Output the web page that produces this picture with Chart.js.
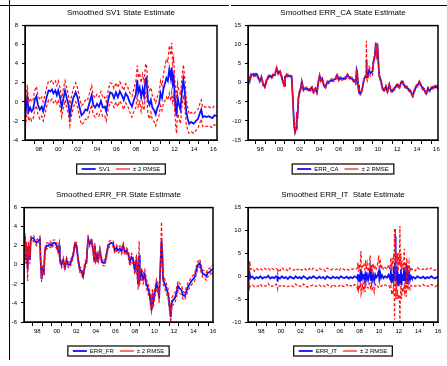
<!DOCTYPE html>
<html>
<head>
<meta charset="utf-8">
<title>Smoothed State Estimates</title>
<script src="https://cdn.jsdelivr.net/npm/chart.js@4/dist/chart.umd.min.js"></script>
<style>
  body { margin: 0; background: #fff; }
  #page { position: relative; width: 447px; height: 366px; overflow: hidden; }
  .panel { position: absolute; }
  .rule { position: absolute; background: #000; z-index: 2; }
</style>
</head>
<body>
<div id="page">
  <div class="rule" style="left:0;top:5px;width:229px;height:1px"></div>
  <div class="rule" style="left:231px;top:5px;width:216px;height:1px"></div>
  <div class="rule" style="left:9px;top:0;width:1px;height:360px"></div>
  <div class="panel" style="left:0;top:3px;width:228px;height:180px"><canvas id="c1"></canvas></div>
  <div class="panel" style="left:225px;top:3px;width:222px;height:180px"><canvas id="c2"></canvas></div>
  <div class="panel" style="left:0;top:183px;width:228px;height:183px"><canvas id="c3"></canvas></div>
  <div class="panel" style="left:225px;top:183px;width:222px;height:183px"><canvas id="c4"></canvas></div>
</div>
<script>
// x labels (2-digit years), placed mid-year
const yearLabels = ['98', '00', '02', '04', '06', '08', '10', '12', '14', '16'];

// SV1
const sv1Ticks = [-4, -2, 0, 2, 4, 6, 8];
const sv1Dates = [
  1997.07, 1997.2, 1997.3, 1997.45, 1997.6, 1997.75, 1997.9, 1998.1, 1998.25, 1998.4,
  1998.6, 1998.8, 1998.95, 1999.15, 1999.3, 1999.5, 1999.7, 1999.85, 2000.0, 2000.2,
  2000.35, 2000.5, 2000.7, 2000.85, 2001.0, 2001.2, 2001.4, 2001.55, 2001.7, 2001.85,
  2002.05, 2002.3, 2002.5, 2002.7, 2002.9, 2003.1, 2003.3, 2003.5, 2003.75, 2003.95,
  2004.1, 2004.3, 2004.5, 2004.7, 2004.9, 2005.1, 2005.3, 2005.45, 2005.65, 2005.85,
  2006.05, 2006.25, 2006.45, 2006.65, 2006.85, 2007.05, 2007.25, 2007.45, 2007.65, 2007.85,
  2008.1, 2008.3, 2008.5, 2008.65, 2008.75, 2008.9, 2009.05, 2009.2, 2009.35, 2009.5,
  2009.6, 2009.75, 2009.9, 2010.05, 2010.2, 2010.4, 2010.55, 2010.7, 2010.9, 2011.05,
  2011.2, 2011.35, 2011.5, 2011.65, 2011.8, 2011.95, 2012.1, 2012.2, 2012.3, 2012.4,
  2012.5, 2012.6, 2012.7, 2012.8, 2012.95, 2013.1, 2013.25, 2013.4, 2013.55, 2013.7,
  2013.85, 2014.0, 2014.2, 2014.45, 2014.7, 2014.9, 2015.1, 2015.25, 2015.4, 2015.6,
  2015.8, 2016.0, 2016.2, 2016.4, 2016.6, 2016.87
];
const sv1Values = [
  -1.9, -0.5, 0.5, -1.0, -0.6, -1.0, -0.8, 0.3, 0.6, -0.3,
  -0.8, -0.5, -1.0, -0.2, 0.5, 1.2, 1.1, 1.3, 0.9, 1.2,
  0.7, 1.2, 0.4, -0.6, 0.2, 1.2, 0.3, -0.3, -1.5, -0.5,
  0.4, 1.0, 0.4, -0.6, -1.4, -1.2, -0.8, -0.9, 0.0, 0.7,
  -0.3, -0.6, -0.2, -0.5, 0.1, -0.6, -0.5, -1.0, 0.2, 1.0,
  0.9, 0.4, 1.0, 0.5, 1.1, 0.7, 0.2, 0.9, 0.6, 0.0,
  -0.5, 0.2, 0.8, 2.3, 1.0, 1.5, 0.5, 1.4, 0.6, 2.4,
  2.5, 0.2, -0.3, 0.2, -0.6, -0.9, -1.3, -0.7, -0.2, 0.9,
  0.4, 1.4, 1.9, 2.5, 2.2, 3.4, 2.5, 3.6, 2.0, 2.6,
  0.8, -0.6, -1.5, 0.5, -0.3, -0.8, 1.0, 2.3, 1.0, -1.0,
  -1.8, -2.3, -2.1, -2.3, -2.0, -1.8, -1.2, -0.8, -1.6, -1.5,
  -1.6, -1.5, -1.6, -1.7, -1.4, -1.5
];
const sv1Band = [
  1.3, 1.3, 1.3, 1.0, 1.0, 1.0, 1.0, 1.0, 1.0, 1.0,
  1.0, 1.0, 1.0, 1.0, 1.0, 1.0, 1.0, 1.0, 1.0, 1.0,
  1.0, 1.0, 1.0, 1.0, 1.0, 1.0, 1.0, 1.0, 1.0, 1.0,
  1.0, 1.0, 1.0, 1.0, 1.0, 1.0, 1.0, 1.0, 1.0, 1.0,
  1.0, 1.0, 1.0, 1.0, 1.0, 1.0, 1.0, 1.0, 1.0, 1.0,
  1.0, 1.0, 1.0, 1.0, 1.0, 1.0, 1.0, 1.0, 1.0, 1.0,
  1.1, 1.2, 1.4, 1.5, 1.5, 1.5, 1.5, 1.5, 1.5, 1.5,
  1.5, 1.5, 1.5, 1.3, 1.3, 1.2, 1.2, 1.2, 1.2, 1.3,
  1.3, 1.5, 1.8, 2.0, 2.0, 2.5, 2.4, 2.6, 2.0, 2.0,
  1.8, 1.8, 1.8, 1.5, 1.5, 1.5, 1.5, 1.6, 1.5, 1.3,
  1.2, 1.0, 1.0, 1.0, 1.0, 1.0, 1.0, 1.0, 1.0, 1.0,
  1.0, 1.0, 1.0, 1.0, 1.0, 1.0
];

// ERR_CA
const caTicks = [-15, -10, -5, 0, 5, 10, 15];
const caDates = [
  1997.23, 1997.4, 1997.57, 1997.92, 1998.09, 1998.26, 1998.43, 1998.6, 1998.78, 1998.95,
  1999.12, 1999.29, 1999.46, 1999.64, 1999.81, 1999.98, 2000.15, 2000.32, 2000.5, 2000.67,
  2000.84, 2000.94, 2001.01, 2001.18, 2001.36, 2001.53, 2001.7, 2001.8, 2001.94, 2002.04,
  2002.15, 2002.22, 2002.28, 2002.39, 2002.49, 2002.63, 2002.73, 2002.9, 2003.25, 2003.59,
  2003.76, 2003.94, 2004.11, 2004.28, 2004.45, 2004.55, 2004.69, 2004.83, 2004.97, 2005.14,
  2005.31, 2005.66, 2006.0, 2006.17, 2006.34, 2006.52, 2006.69, 2007.03, 2007.2, 2007.38,
  2007.55, 2007.72, 2007.89, 2008.06, 2008.24, 2008.34, 2008.41, 2008.48, 2008.58, 2008.75,
  2008.92, 2009.09, 2009.23, 2009.3, 2009.34, 2009.38, 2009.44, 2009.61, 2009.78, 2009.96,
  2010.06, 2010.2, 2010.3, 2010.4, 2010.47, 2010.54, 2010.64, 2010.82, 2010.99, 2011.16,
  2011.33, 2011.5, 2011.68, 2011.85, 2012.02, 2012.19, 2012.36, 2012.54, 2012.71, 2012.88,
  2013.05, 2013.15, 2013.4, 2013.57, 2013.74, 2013.91, 2014.08, 2014.25, 2014.43, 2014.6,
  2014.77, 2014.94, 2015.12, 2015.29, 2015.46, 2015.63, 2015.8, 2015.98, 2016.15, 2016.32,
  2016.49, 2016.66
];
const caValues = [
  2.2, 0.5, 2.2, 2.0, 2.3, 1.5, 0.5, 1.5, -0.5, -1.0,
  0.5, 1.5, 1.8, 1.5, 2.0, 2.0, 3.8, 2.5, 3.0, 1.5,
  0.0, -0.8, 1.5, 2.0, 1.8, 1.8, 1.5, -3.5, -11.0, -12.8,
  -12.0, -8.0, -9.5, -4.0, -2.5, -1.5, 0.2, -1.8, -1.5, -2.0,
  -1.2, -2.5, -1.5, -2.5, 0.5, 1.8, 0.5, 1.0, -0.5, -1.2,
  0.0, 0.5, 0.8, 1.0, 2.0, 0.8, 1.2, 1.0, 1.2, 2.0,
  1.5, 1.2, 1.0, 0.6, 0.0, 3.3, 2.5, -0.5, -2.5, -2.8,
  -1.5, 1.0, 1.5, 1.5, 6.0, 1.5, 1.5, 3.3, 2.5, 3.0,
  5.5, 7.0, 10.3, 8.0, 10.0, 6.5, 2.0, 0.5, -1.5, -2.0,
  -1.0, -2.3, -0.5, -2.0, -2.2, -1.5, -1.0, -0.5, -1.2, 0.0,
  0.3, -0.5, -1.2, -1.5, -2.0, -2.5, -3.5, -2.0, -1.0, -0.5,
  0.2, -0.8, -1.5, -2.0, -2.8, -1.5, -2.0, -1.5, -1.2, -1.0,
  -1.2, -0.8
];
const caBand = [
  0.4, 0.4, 0.4, 0.4, 0.4, 0.4, 0.4, 0.4, 0.4, 0.4,
  0.4, 0.4, 0.4, 0.4, 0.4, 0.4, 0.4, 0.4, 0.4, 0.4,
  0.4, 0.4, 0.4, 0.4, 0.4, 0.4, 0.4, 0.5, 0.6, 0.6,
  0.6, 0.5, 0.5, 0.4, 0.4, 0.4, 0.4, 0.4, 0.4, 0.4,
  0.4, 0.4, 0.4, 0.4, 0.4, 0.4, 0.4, 0.4, 0.4, 0.4,
  0.4, 0.4, 0.4, 0.4, 0.4, 0.4, 0.4, 0.4, 0.4, 0.4,
  0.4, 0.4, 0.4, 0.4, 0.4, 0.4, 0.4, 0.4, 0.4, 0.4,
  0.4, 0.4, 0.5, 0.5, 5.0, 0.5, 1.0, 1.0, 1.0, 1.0,
  0.6, 0.6, 0.4, 0.5, 0.6, 0.5, 0.5, 0.4, 0.4, 0.4,
  0.4, 0.4, 0.4, 0.4, 0.4, 0.4, 0.4, 0.4, 0.4, 0.4,
  0.4, 0.4, 0.4, 0.4, 0.4, 0.4, 0.4, 0.4, 0.4, 0.4,
  0.4, 0.4, 0.4, 0.4, 0.4, 0.4, 0.4, 0.4, 0.4, 0.4,
  0.4, 0.4
];

// ERR_FR
const frTicks = [-6, -4, -2, 0, 2, 4, 6];
const frDates = [
  1997.14, 1997.24, 1997.34, 1997.41, 1997.51, 1997.61, 1997.75, 1997.82, 1997.92, 1998.09,
  1998.26, 1998.43, 1998.6, 1998.77, 1998.84, 1998.94, 1999.05, 1999.18, 1999.28, 1999.45,
  1999.63, 1999.8, 1999.97, 2000.14, 2000.31, 2000.48, 2000.65, 2000.75, 2000.82, 2000.99,
  2001.16, 2001.33, 2001.5, 2001.67, 2001.84, 2002.01, 2002.18, 2002.35, 2002.52, 2002.69,
  2002.86, 2003.03, 2003.2, 2003.38, 2003.55, 2003.61, 2003.72, 2003.89, 2004.06, 2004.23,
  2004.33, 2004.4, 2004.5, 2004.64, 2004.74, 2004.91, 2005.08, 2005.25, 2005.42, 2005.59,
  2005.76, 2005.93, 2006.1, 2006.27, 2006.44, 2006.61, 2006.78, 2006.96, 2007.13, 2007.3,
  2007.47, 2007.64, 2007.81, 2007.98, 2008.15, 2008.32, 2008.49, 2008.66, 2008.83, 2008.93,
  2009.0, 2009.17, 2009.34, 2009.51, 2009.68, 2009.85, 2010.02, 2010.19, 2010.3, 2010.36,
  2010.53, 2010.71, 2010.88, 2010.98, 2011.12, 2011.22, 2011.32, 2011.39, 2011.56, 2011.73,
  2011.9, 2012.07, 2012.17, 2012.27, 2012.41, 2012.58, 2012.75, 2012.92, 2013.09, 2013.26,
  2013.43, 2013.6, 2013.77, 2013.94, 2014.12, 2014.29, 2014.46, 2014.63, 2014.8, 2014.97,
  2015.14, 2015.31, 2015.48, 2015.65, 2015.82, 2015.99, 2016.16, 2016.33, 2016.5
];
const frValues = [
  1.0, 3.0, 0.5, 2.0, -0.5, 2.0, 0.5, 2.5, 2.8, 2.8,
  2.5, 2.3, 2.5, 2.7, 0.5, -1.5, -0.5, -0.8, 1.5, 2.0,
  2.0, 2.2, 2.0, 2.3, 2.3, 2.0, 1.5, 2.0, 0.5, 0.0,
  0.5, -0.3, 0.5, 0.0, 0.0, 0.5, 1.0, 2.2, 2.0, 0.5,
  -0.5, -0.7, -1.2, 0.0, 0.3, 1.5, 2.7, 2.2, 2.5, 1.5,
  0.5, 2.0, 0.5, 1.0, 0.5, 1.5, 0.5, 0.2, 0.2, 1.0,
  2.0, 2.2, 2.3, 2.2, 1.5, 1.8, 1.5, 1.7, 1.4, 2.0,
  1.3, 1.5, 1.2, 0.3, 0.8, 0.5, -0.5, 0.5, -2.0, 1.0,
  -1.5, -0.8, -1.5, -1.0, -2.0, -2.5, -3.2, -4.5, -3.0, -4.0,
  -3.0, -2.0, -2.5, -3.5, 0.0, 2.5, 1.0, -1.5, -2.0, -2.5,
  -3.0, -4.5, -5.5, -4.0, -3.7, -3.5, -3.0, -2.2, -2.5, -2.6,
  -3.2, -3.3, -2.8, -2.3, -2.0, -1.7, -1.5, -1.3, -0.5, 0.0,
  0.2, -0.5, -1.0, -1.0, -1.2, -0.8, -0.8, -0.5, -0.5
];
const frBand = [
  0.4, 0.4, 0.5, 0.4, 1.2, 0.4, 0.4, 0.4, 0.3, 0.3,
  0.3, 0.3, 0.3, 0.3, 0.3, 0.3, 0.3, 0.3, 0.3, 0.3,
  0.3, 0.3, 0.3, 0.3, 0.3, 0.3, 0.3, 0.3, 0.3, 0.3,
  0.3, 0.3, 0.3, 0.3, 0.3, 0.3, 0.3, 0.3, 0.3, 0.3,
  0.3, 0.3, 0.3, 0.3, 0.3, 0.3, 0.3, 0.3, 0.3, 0.3,
  0.3, 0.3, 0.3, 0.3, 0.3, 0.3, 0.3, 0.3, 0.3, 0.3,
  0.3, 0.3, 0.3, 0.3, 0.3, 0.3, 0.3, 0.3, 0.3, 0.3,
  0.3, 0.3, 0.3, 0.4, 0.4, 0.4, 0.5, 0.5, 0.6, 1.5,
  0.5, 0.5, 0.5, 0.5, 0.5, 0.5, 0.5, 0.5, 0.5, 0.5,
  0.5, 0.5, 0.5, 0.5, 0.6, 2.0, 0.6, 0.5, 0.5, 0.5,
  0.5, 0.5, 0.5, 0.5, 0.5, 0.5, 0.5, 0.5, 0.5, 0.5,
  0.4, 0.4, 0.4, 0.4, 0.4, 0.4, 0.4, 0.4, 0.4, 0.4,
  0.4, 0.4, 0.4, 0.4, 0.4, 0.4, 0.4, 0.4, 0.4
];

// ERR_IT
const itTicks = [-10, -5, 0, 5, 10, 15];
const itDates = [
  1997.14, 1997.2, 1997.26, 1997.32, 1997.4, 1997.6, 1997.8, 1998.0, 1998.2, 1998.4,
  1998.6, 1998.8, 1999.0, 1999.2, 1999.4, 1999.6, 1999.8, 2000.0, 2000.12, 2000.16,
  2000.2, 2000.4, 2000.6, 2000.8, 2001.0, 2001.2, 2001.4, 2001.6, 2001.8, 2002.0,
  2002.2, 2002.4, 2002.6, 2002.8, 2003.0, 2003.2, 2003.4, 2003.6, 2003.8, 2004.0,
  2004.2, 2004.4, 2004.6, 2004.8, 2005.0, 2005.2, 2005.4, 2005.6, 2005.8, 2006.0,
  2006.2, 2006.4, 2006.6, 2006.8, 2007.0, 2007.2, 2007.4, 2007.6, 2007.8, 2008.0,
  2008.2, 2008.28, 2008.33, 2008.38, 2008.45, 2008.55, 2008.62, 2008.66, 2008.7, 2008.78,
  2008.86, 2008.95, 2009.05, 2009.12, 2009.2, 2009.28, 2009.38, 2009.48, 2009.58, 2009.65,
  2009.72, 2009.8, 2009.9, 2010.0, 2010.1, 2010.2, 2010.3, 2010.45, 2010.52, 2010.6,
  2010.7, 2010.8, 2010.95, 2011.1, 2011.3, 2011.45, 2011.6, 2011.7, 2011.78, 2011.85,
  2011.92, 2011.98, 2012.03, 2012.07, 2012.12, 2012.16, 2012.2, 2012.26, 2012.32, 2012.38,
  2012.44, 2012.5, 2012.56, 2012.62, 2012.66, 2012.72, 2012.78, 2012.85, 2012.92, 2013.0,
  2013.06, 2013.1, 2013.18, 2013.26, 2013.32, 2013.38, 2013.45, 2013.55, 2013.65, 2013.75,
  2013.85, 2014.0, 2014.2, 2014.4, 2014.6, 2014.8, 2015.0, 2015.2, 2015.4, 2015.6,
  2015.8, 2016.0, 2016.2, 2016.4, 2016.5
];
const itValues = [
  -3.0, 1.0, -0.5, 0.5, -0.3, -0.1, -0.6, -0.2, -0.4, 0.0,
  -0.5, -0.2, -0.3, 0.1, -0.5, -0.2, -0.4, 0.0, -0.3, -1.2,
  -0.2, -0.5, 0.0, -0.4, -0.2, -0.6, -0.1, -0.3, -0.5, 0.0,
  -0.4, -0.2, -0.5, 0.0, -0.3, -0.6, -0.2, -0.4, 0.0, -0.3,
  -0.5, -0.1, -0.4, -0.2, -0.6, 0.0, -0.3, -0.5, -0.1, -0.4,
  -0.2, -0.5, 0.0, -0.3, -0.4, -0.1, -0.5, -0.2, -0.4, 0.0,
  -0.2, -0.5, 0.5, -1.0, 0.3, -0.8, 1.5, 0.8, -1.0, 0.2,
  -0.5, 0.5, -1.0, 1.0, -0.5, 0.2, -0.8, 0.3, 1.5, -1.0,
  0.5, -0.8, 0.2, -1.0, 0.3, -0.3, 0.0, 1.0, -0.5, 0.8,
  -0.3, 0.2, -0.4, 0.0, -0.3, 0.3, -0.5, 1.0, -1.5, 0.5,
  -1.0, 2.0, -0.5, 0.5, 3.0, 8.8, -1.0, 2.0, -1.5, 1.0,
  -2.0, 0.5, -1.0, 0.5, -1.5, 1.5, -2.0, 0.5, -1.0, 0.3,
  2.0, -1.0, 0.0, -1.5, 2.5, 0.0, -1.0, 0.8, -0.8, 0.0,
  -0.4, -0.2, -0.5, 0.0, -0.3, -0.4, -0.1, -0.5, -0.2, -0.4,
  0.0, -0.3, -0.5, -0.2, -0.3
];
const itBand = [
  1.7, 2.0, 2.2, 2.8, 1.8, 1.8, 1.7, 1.9, 1.8, 1.7,
  1.8, 1.9, 1.8, 1.7, 1.8, 1.9, 1.8, 1.7, 1.8, 1.5,
  1.8, 1.7, 1.9, 1.8, 1.8, 1.7, 1.9, 1.8, 1.8, 1.7,
  1.8, 1.9, 1.8, 1.7, 1.8, 1.8, 1.9, 1.7, 1.8, 1.8,
  1.7, 1.8, 1.9, 1.8, 1.7, 1.8, 1.8, 1.9, 1.7, 1.8,
  1.8, 1.7, 1.8, 1.9, 1.8, 1.7, 1.8, 1.8, 1.9, 1.8,
  1.8, 2.2, 2.5, 2.0, 2.3, 2.0, 3.0, 4.7, 2.5, 2.0,
  2.4, 2.0, 2.5, 2.5, 2.0, 2.6, 1.8, 2.0, 3.0, 2.0,
  2.2, 2.0, 2.6, 2.5, 2.0, 1.9, 2.0, 3.5, 2.0, 3.0,
  1.9, 2.2, 1.8, 1.9, 1.8, 2.2, 2.0, 3.0, 2.5, 3.5,
  3.0, 3.0, 4.0, 10.0, 4.0, 1.5, 4.0, 3.0, 3.5, 4.0,
  3.0, 4.5, 3.5, 10.5, 3.5, 3.5, 3.0, 3.0, 2.5, 3.0,
  4.0, 2.5, 2.5, 3.0, 1.5, 2.5, 2.0, 2.3, 2.0, 2.0,
  1.8, 1.8, 1.7, 1.9, 1.8, 1.8, 1.7, 1.8, 1.9, 1.8,
  1.8, 1.7, 1.8, 1.8, 1.8
];

Chart.defaults.font.family = 'Arial, "Liberation Sans", sans-serif';
Chart.defaults.color = '#000';

const blue = '#1010ff';
const red = '#ff1010';

// plot frame
const frame = {
  id: 'frame',
  afterDraw(chart) {
    const a = chart.chartArea, ctx = chart.ctx;
    ctx.save();
    ctx.strokeStyle = '#000';
    ctx.lineWidth = 1.5;
    ctx.strokeRect(a.left, a.top, a.right - a.left, a.bottom - a.top);
    ctx.restore();
  }
};

// box around the legend
const legendBox = {
  id: 'legendBox',
  afterDraw(chart) {
    const hb = chart.legend && chart.legend.legendHitBoxes;
    if (!hb || !hb.length) return;
    const left = Math.min(...hb.map(h => h.left)) - 5;
    const right = Math.max(...hb.map(h => h.left + h.width)) + 5;
    const top = hb[0].top - 2;
    const ctx = chart.ctx;
    ctx.save();
    ctx.strokeStyle = '#000';
    ctx.lineWidth = 1.2;
    ctx.strokeRect(left, top, right - left, hb[0].height + 4);
    ctx.restore();
  }
};

function yearTicks(min, max) {
  const ticks = [];
  for (let y = Math.ceil(min * 2) / 2; y <= max; y += 0.5) ticks.push({ value: y });
  return ticks;
}

function yearLabel(v) {
  const i = (v - 1998.5) / 2;
  return Number.isInteger(i) && i >= 0 && i < yearLabels.length ? yearLabels[i] : '';
}

function makePanel(id, box, title, name, dates, values, band, yTicks) {
  const mid = dates.map((d, i) => ({ x: d, y: values[i] }));
  const upper = dates.map((d, i) => ({ x: d, y: values[i] + band[i] }));
  const lower = dates.map((d, i) => ({ x: d, y: values[i] - band[i] }));
  const small = { size: 6 };

  new Chart(document.getElementById(id), {
    type: 'line',
    data: {
      datasets: [
        { label: name, data: mid, borderColor: blue, borderWidth: 1.8, order: 1 },
        { label: '± 2 RMSE', data: upper, borderColor: red, borderWidth: 1.2, borderDash: [3, 2], order: 0 },
        { label: 'lower', data: lower, borderColor: red, borderWidth: 1.2, borderDash: [3, 2], order: 0 }
      ]
    },
    options: {
      responsive: true,
      maintainAspectRatio: false,
      animation: false,
      events: [],
      layout: { padding: { left: 0, right: box.right, top: 0, bottom: box.bottom } },
      elements: { point: { radius: 0 }, line: { tension: 0 } },
      scales: {
        x: {
          type: 'linear',
          min: dates[0],
          max: dates[dates.length - 1],
          afterBuildTicks: s => { s.ticks = yearTicks(s.min, s.max); },
          afterFit: s => { s.height = 20; },
          grid: {
            drawOnChartArea: false,
            tickLength: 4,
            tickColor: c => (c.tick && Number.isInteger(c.tick.value)) ? '#000' : 'rgba(0,0,0,0)'
          },
          border: { color: '#000' },
          ticks: { autoSkip: false, maxRotation: 0, minRotation: 0, padding: 2, font: small, callback: v => yearLabel(v) }
        },
        y: {
          min: yTicks[0],
          max: yTicks[yTicks.length - 1],
          afterBuildTicks: s => { s.ticks = yTicks.map(v => ({ value: v })); },
          afterFit: s => { s.width = box.axis; },
          grid: { drawOnChartArea: false, tickLength: 3, tickColor: '#000' },
          border: { color: '#000' },
          ticks: { padding: 4, font: small }
        }
      },
      plugins: {
        title: {
          display: true,
          text: title,
          fullSize: false,
          padding: { top: box.tt, bottom: box.tb },
          font: { size: 8, weight: 'normal' }
        },
        legend: {
          position: 'bottom',
          fullSize: false,
          labels: {
            usePointStyle: true,
            pointStyle: 'line',
            pointStyleWidth: 14,
            padding: 6,
            font: small,
            filter: it => it.datasetIndex < 2,
            sort: (a, b) => a.datasetIndex - b.datasetIndex
          }
        },
        tooltip: { enabled: false }
      }
    },
    plugins: [frame, legendBox]
  });
}

makePanel('c1', { axis: 25, right: 11, bottom: 1, tt: 5, tb: 8 },
  'Smoothed SV1 State Estimate', 'SV1', sv1Dates, sv1Values, sv1Band, sv1Ticks);
makePanel('c2', { axis: 23, right: 9, bottom: 1, tt: 5, tb: 8 },
  'Smoothed ERR_CA State Estimate', 'ERR_CA', caDates, caValues, caBand, caTicks);
makePanel('c3', { axis: 24, right: 15, bottom: 2, tt: 7, tb: 8 },
  'Smoothed ERR_FR State Estimate', 'ERR_FR', frDates, frValues, frBand, frTicks);
makePanel('c4', { axis: 23, right: 9, bottom: 2, tt: 7, tb: 8 },
  'Smoothed ERR_IT  State Estimate', 'ERR_IT', itDates, itValues, itBand, itTicks);
</script>
</body>
</html>
